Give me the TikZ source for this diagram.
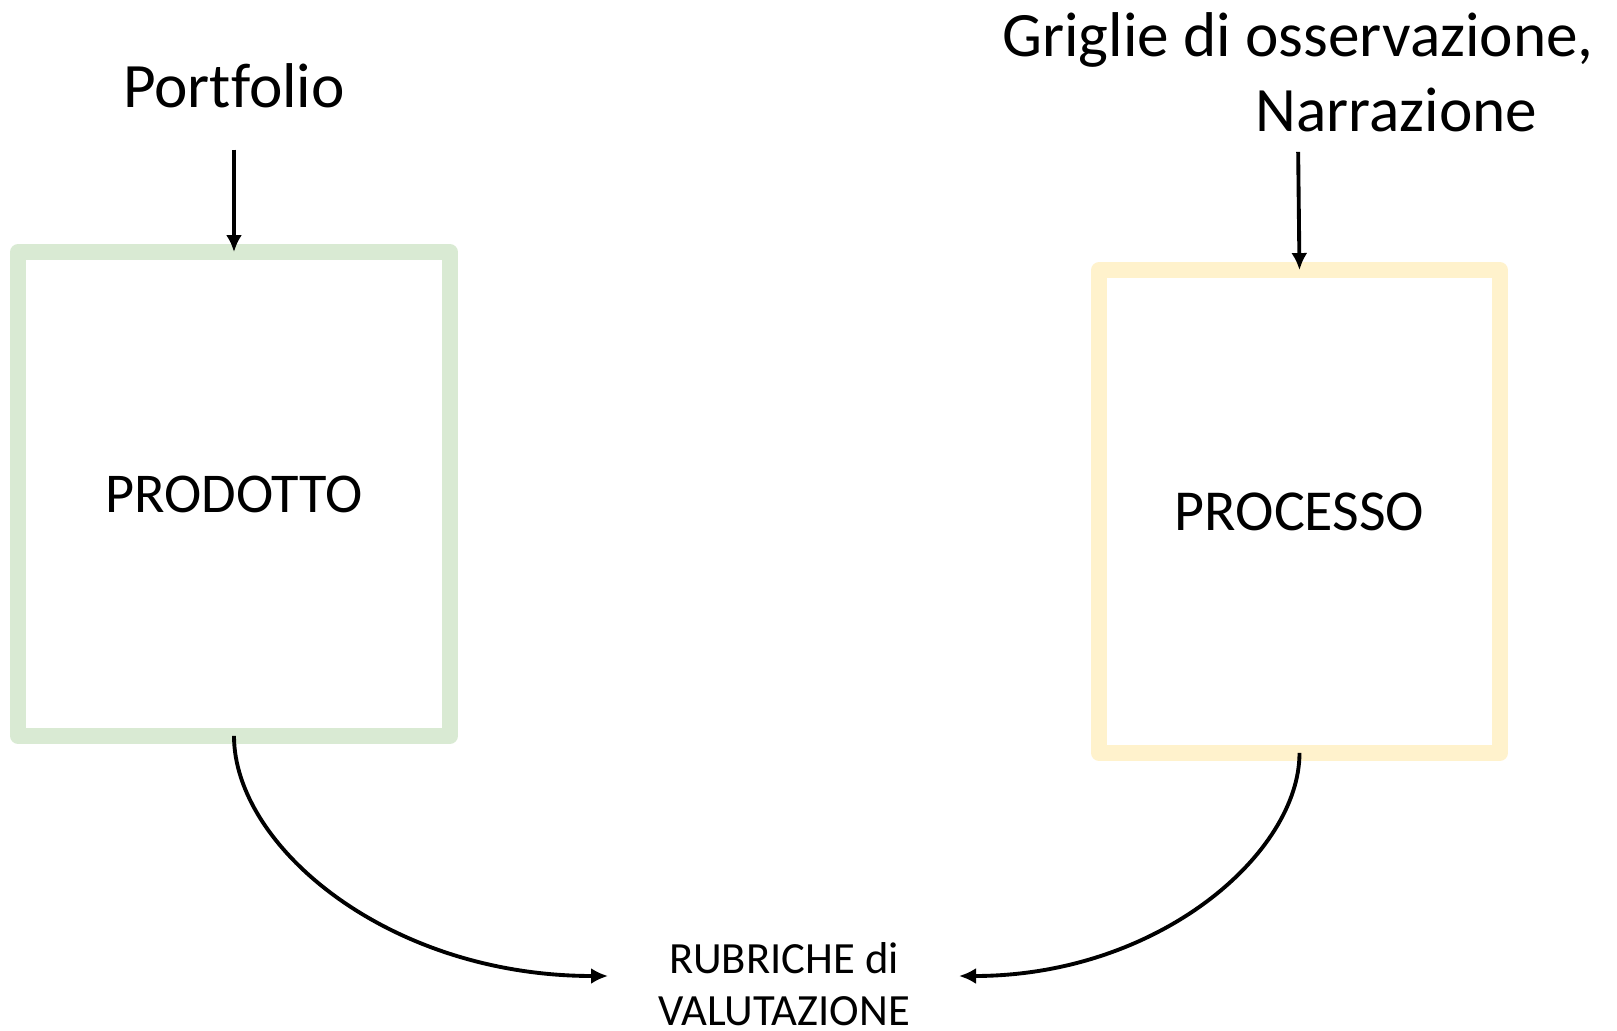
\documentclass[tikz,border=0pt]{standalone}
\usepackage{fontspec}
\setmainfont{Carlito}[Ligatures=NoCommon]
\usetikzlibrary{arrows.meta}
\definecolor{prodgreen}{RGB}{217,234,211}
\definecolor{procyellow}{RGB}{255,242,204}

\begin{document}
\begin{tikzpicture}[x=0.02cm, y=-0.02cm,
        arr/.style={-{Latex[length=3.4mm, width=3.2mm]}, line width=2.2pt},
        boxnode/.style={draw, line width=9pt, line join=round, inner sep=0pt, outer sep=0pt, align=center}]
        \useasboundingbox (0, 0) rectangle (1617, 1031);

        \node[font=\fontsize{36}{43}\selectfont] (port) at (234, 86) {Portfolio};
        \node[font=\fontsize{36}{42.5}\selectfont, align=left] (grig) at (1298, 72) {Griglie di osservazione,\\\hspace*{144pt}Narrazione};

        \node[boxnode, draw=prodgreen, minimum width=8.64cm, minimum height=9.68cm, font=\fontsize{32}{38}\selectfont] (prod) at (234, 494) {PRODOTTO};
        \node[boxnode, draw=procyellow, minimum width=8.02cm, minimum height=9.66cm, font=\fontsize{33}{39}\selectfont] (proc) at (1299.5, 511.5) {PROCESSO};

        \node[font=\fontsize{25.4}{29.6}\selectfont, align=center, inner sep=0pt] (rub) at (784, 984) {RUBRICHE di\\VALUTAZIONE};
        \coordinate (rubL) at (608, 976);
        \coordinate (rubR) at (959, 976);

        \draw[arr, shorten <=20pt] (port.south) -- (prod.north);
        \draw[arr, shorten <=8pt] (grig.south) -- (proc.north);
        \draw[arr] (prod.south) .. controls +(0, 110) and +(-220, 0) .. (rubL);
        \draw[arr] (proc.south) .. controls +(0, 100) and +(200, 0) .. (rubR);
\end{tikzpicture}
\end{document}
